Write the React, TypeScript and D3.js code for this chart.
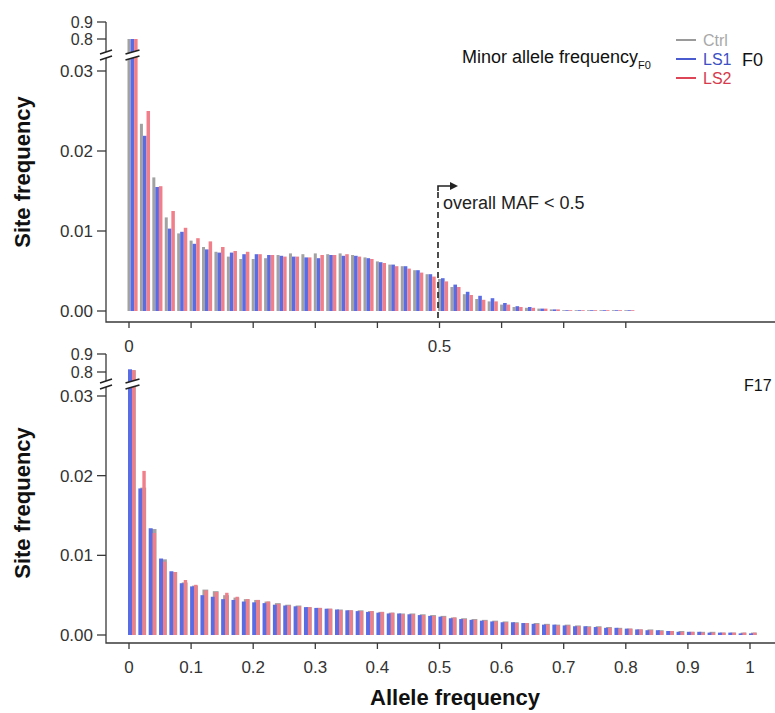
import React from 'react';
import * as d3 from 'd3';

// ---------------- DATA ----------------
const seriesNames = ['Ctrl', 'LS1', 'LS2'];

// F0 panel: bins of 0.02 from 0 to 0.8
const f0Step = 0.02;
const f0Ctrl = [0.80, 0.0234, 0.0167, 0.0117, 0.0097, 0.0088, 0.0080, 0.0074, 0.0068, 0.0065, 0.0065, 0.0066, 0.0070, 0.0072, 0.0071, 0.0072, 0.0071, 0.0072, 0.0070, 0.0067, 0.0062, 0.0058, 0.0056, 0.0051, 0.0046, 0.0040, 0.0030, 0.0021, 0.0015, 0.0012, 0.0008, 0.0005, 0.0004, 0.0003, 0.0002, 0.0001, 0.0001, 0.0001, 0.0001, 0.0001, 0.0001];
const f0LS1 = [0.80, 0.0219, 0.0155, 0.0103, 0.0099, 0.0084, 0.0077, 0.0073, 0.0073, 0.0071, 0.0071, 0.0070, 0.0069, 0.0068, 0.0067, 0.0066, 0.0070, 0.0069, 0.0069, 0.0066, 0.0061, 0.0058, 0.0056, 0.0051, 0.0046, 0.0041, 0.0033, 0.0024, 0.0019, 0.0016, 0.0010, 0.0006, 0.0005, 0.0003, 0.0002, 0.0001, 0.0001, 0.0001, 0.0001, 0.0001, 0.0001];
const f0LS2 = [0.80, 0.0250, 0.0156, 0.0125, 0.0104, 0.0091, 0.0087, 0.0080, 0.0075, 0.0074, 0.0071, 0.0070, 0.0068, 0.0068, 0.0067, 0.0070, 0.0070, 0.0071, 0.0068, 0.0065, 0.0060, 0.0056, 0.0053, 0.0048, 0.0043, 0.0037, 0.0030, 0.0020, 0.0014, 0.0012, 0.0008, 0.0005, 0.0004, 0.0003, 0.0002, 0.0001, 0.0001, 0.0001, 0.0001, 0.0001, 0.0001];

// F17 panel: bins of 1/60 from 0 to 1
const f17Step = 1 / 60;
const f17Ctrl = [0.81, 0.0185, 0.0133, 0.0095, 0.0079, 0.0066, 0.0062, 0.0057, 0.0055, 0.0050, 0.0047, 0.0045, 0.0044, 0.0042, 0.0040, 0.0038, 0.0037, 0.0035, 0.0034, 0.0033, 0.0032, 0.0031, 0.0031, 0.0030, 0.0029, 0.0028, 0.0027, 0.0027, 0.0026, 0.0025, 0.0024, 0.0022, 0.0021, 0.0020, 0.0019, 0.0018, 0.0017, 0.0016, 0.0015, 0.0015, 0.0014, 0.0013, 0.0013, 0.0012, 0.0011, 0.0011, 0.0010, 0.0009, 0.0008, 0.0007, 0.0007, 0.0006, 0.0005, 0.0005, 0.0004, 0.0004, 0.0004, 0.0003, 0.0003, 0.0003, 0.0003];
const f17LS1 = [0.815, 0.0184, 0.0134, 0.0096, 0.0080, 0.0065, 0.0061, 0.0050, 0.0048, 0.0045, 0.0044, 0.0042, 0.0041, 0.0040, 0.0038, 0.0037, 0.0036, 0.0035, 0.0034, 0.0033, 0.0032, 0.0031, 0.0030, 0.0029, 0.0028, 0.0027, 0.0027, 0.0026, 0.0025, 0.0024, 0.0023, 0.0021, 0.0020, 0.0019, 0.0018, 0.0017, 0.0016, 0.0016, 0.0015, 0.0014, 0.0013, 0.0013, 0.0012, 0.0011, 0.0011, 0.0010, 0.0009, 0.0009, 0.0008, 0.0007, 0.0006, 0.0006, 0.0005, 0.0004, 0.0004, 0.0004, 0.0003, 0.0003, 0.0003, 0.0002, 0.0002];
const f17LS2 = [0.81, 0.0206, 0.0128, 0.0092, 0.0079, 0.0069, 0.0063, 0.0056, 0.0054, 0.0053, 0.0048, 0.0045, 0.0044, 0.0042, 0.0039, 0.0037, 0.0036, 0.0035, 0.0034, 0.0033, 0.0031, 0.0031, 0.0030, 0.0030, 0.0029, 0.0028, 0.0026, 0.0026, 0.0025, 0.0024, 0.0023, 0.0022, 0.0020, 0.0019, 0.0018, 0.0017, 0.0016, 0.0015, 0.0015, 0.0014, 0.0013, 0.0012, 0.0012, 0.0011, 0.0010, 0.0010, 0.0009, 0.0008, 0.0008, 0.0007, 0.0006, 0.0005, 0.0005, 0.0004, 0.0004, 0.0003, 0.0003, 0.0003, 0.0003, 0.0003, 0.0003];

const yTicksLow = [0, 0.01, 0.02, 0.03];
const yTicksHigh = [0.8, 0.9];
const topXTicks = [0, 0.1, 0.2, 0.3, 0.4, 0.5, 0.6, 0.7, 0.8];
const topXLabels = [0, 0.5];
const bottomXTicks = [0, 0.1, 0.2, 0.3, 0.4, 0.5, 0.6, 0.7, 0.8, 0.9, 1];
const bottomXLabels = [0, 0.1, 0.2, 0.3, 0.4, 0.5, 0.6, 0.7, 0.8, 0.9, 1];
const mafCut = 0.5;

// ---------------- STYLE ----------------
const FONT = '"Liberation Sans", Arial, Helvetica, sans-serif';
const barColors: Record<string, string> = { Ctrl: '#a2a2a2', LS1: '#5a6ce4', LS2: '#f07f89' };
const legendLineColors: Record<string, string> = { Ctrl: '#9a9a9a', LS1: '#4a5bd0', LS2: '#dd4656' };
const legendTextColors: Record<string, string> = { Ctrl: '#a8a8a8', LS1: '#3d50c4', LS2: '#d63a4c' };
const AXIS = '#3a3a3a';
const TICKTXT = '#333';

const xScale = d3.scaleLinear().domain([0, 1]).range([129, 750]);
const AXIS_X = 106;

type BarLayout = { off: number; w: number }[]; // order: Ctrl, LS1, LS2

interface PanelProps {
  step: number;
  data: number[][];
  yZero: number;
  y03: number;
  y08: number;
  y09: number;
  breakY: number;
  axisY: number;
  xTicks: number[];
  xLabels: number[];
  layout: BarLayout;
  drawOrder: number[];
  labelCenterY: number;
}

function BreakMark({ cx, cy, half }: { cx: number; cy: number; half: number }) {
  const h = half;
  const p1 = [cx - h, cy - 1];
  const p2 = [cx + h, cy - 5];
  const p3 = [cx + h, cy + 1];
  const p4 = [cx - h, cy + 5];
  return (
    <g>
      <polygon points={`${p1.join(',')} ${p2.join(',')} ${p3.join(',')} ${p4.join(',')}`} fill="#fff" />
      <line x1={p1[0]} y1={p1[1]} x2={p2[0]} y2={p2[1]} stroke="#222" strokeWidth={1.6} />
      <line x1={p4[0]} y1={p4[1]} x2={p3[0]} y2={p3[1]} stroke="#222" strokeWidth={1.6} />
    </g>
  );
}

function Panel(p: PanelProps) {
  const low = d3.scaleLinear().domain([0, 0.03]).range([p.yZero, p.y03]);
  const high = d3.scaleLinear().domain([0.8, 0.9]).range([p.y08, p.y09]);
  const yOf = (v: number) => (v > 0.035 ? high(v) : low(v));
  const n = p.data[0].length;
  const bins = d3.range(n).map((i) => i * p.step);
  const brokenGroups = bins.filter((_, i) => p.data.some((s) => s[i] > 0.035));

  return (
    <g>
      {bins.map((b, i) => {
        const x0 = xScale(b);
        return (
          <g key={i}>
            {p.drawOrder.map((si) => {
              const v = p.data[si][i];
              const y = yOf(v);
              const L = p.layout[si];
              return (
                <rect
                  key={si}
                  x={x0 + L.off}
                  y={y}
                  width={L.w}
                  height={Math.max(0, p.yZero - y)}
                  fill={barColors[seriesNames[si]]}
                />
              );
            })}
          </g>
        );
      })}
      <path d={`M${AXIS_X},${p.y09} V${p.axisY} H775`} fill="none" stroke={AXIS} strokeWidth={1.3} />
      {yTicksLow.map((t) => (
        <g key={'yl' + t}>
          <line x1={AXIS_X - 9} x2={AXIS_X} y1={low(t)} y2={low(t)} stroke={AXIS} strokeWidth={1.3} />
          <text x={AXIS_X - 13} y={low(t)} dy="0.35em" textAnchor="end" fontSize={17} fill={TICKTXT} fontFamily={FONT}>
            {d3.format('.2f')(t)}
          </text>
        </g>
      ))}
      {yTicksHigh.map((t) => (
        <g key={'yh' + t}>
          <line x1={AXIS_X - 9} x2={AXIS_X} y1={high(t)} y2={high(t)} stroke={AXIS} strokeWidth={1.3} />
          <text x={AXIS_X - 13} y={high(t)} dy="0.35em" textAnchor="end" fontSize={16} fill={TICKTXT} fontFamily={FONT}>
            {d3.format('.1f')(t)}
          </text>
        </g>
      ))}
      {p.xTicks.map((t) => (
        <line key={'xt' + t} x1={xScale(t)} x2={xScale(t)} y1={p.axisY} y2={p.axisY + 6} stroke={AXIS} strokeWidth={1.3} />
      ))}
      {p.xLabels.map((t) => (
        <text key={'xl' + t} x={xScale(t)} y={p.axisY + 24} dy="0.35em" textAnchor="middle" fontSize={17} fill={TICKTXT} fontFamily={FONT}>
          {String(t)}
        </text>
      ))}
      <BreakMark cx={AXIS_X} cy={p.breakY} half={6} />
      {brokenGroups.map((b) => (
        <BreakMark key={'bk' + b} cx={xScale(b) + 3.5} cy={p.breakY} half={7} />
      ))}
      <text
        transform={`translate(30,${p.labelCenterY}) rotate(-90)`}
        textAnchor="middle"
        fontSize={22}
        fontWeight="bold"
        fill="#111"
        fontFamily={FONT}
      >
        Site frequency
      </text>
    </g>
  );
}

export default function App() {
  const topLayout: BarLayout = [
    { off: -1.5, w: 3 },
    { off: 1.5, w: 3.6 },
    { off: 5.1, w: 3.5 },
  ];
  const bottomLayout: BarLayout = [
    { off: 1, w: 5.8 },
    { off: -1, w: 4 },
    { off: 3, w: 3.4 },
  ];
  const xm = xScale(mafCut) - 1.5;
  return (
    <svg width={775} height={713} style={{ position: 'absolute', left: 0, top: 0, background: '#fff' }}>
      <rect width={775} height={713} fill="#fff" />
      <Panel
        step={f0Step}
        data={[f0Ctrl, f0LS1, f0LS2]}
        yZero={311}
        y03={71}
        y08={39}
        y09={22}
        breakY={55}
        axisY={322}
        xTicks={topXTicks}
        xLabels={topXLabels}
        layout={topLayout}
        drawOrder={[0, 1, 2]}
        labelCenterY={172}
      />
      <Panel
        step={f17Step}
        data={[f17Ctrl, f17LS1, f17LS2]}
        yZero={635}
        y03={396}
        y08={372}
        y09={354}
        breakY={384}
        axisY={643}
        xTicks={bottomXTicks}
        xLabels={bottomXLabels}
        layout={bottomLayout}
        drawOrder={[0, 1, 2]}
        labelCenterY={503}
      />
      <line x1={xm} x2={xm} y1={192} y2={322} stroke="#222" strokeWidth={1.6} strokeDasharray="6,4" />
      <path d={`M${xm},191 V186 H451`} fill="none" stroke="#222" strokeWidth={1.6} />
      <polygon points={`450,182 458,186 450,190`} fill="#222" />
      <text x={443} y={209} fontSize={18} fill="#222" fontFamily={FONT}>
        overall MAF &lt; 0.5
      </text>
      <text x={462} y={63} fontSize={18} fill="#111" fontFamily={FONT}>
        Minor allele frequency
        <tspan fontSize={11} dy={6}>F0</tspan>
      </text>
      {seriesNames.map((s, i) => (
        <g key={s}>
          <line x1={676} x2={696} y1={40 + i * 19} y2={40 + i * 19} stroke={legendLineColors[s]} strokeWidth={2} />
          <text x={703} y={40 + i * 19} dy="0.35em" fontSize={16} fill={legendTextColors[s]} fontFamily={FONT}>
            {s}
          </text>
        </g>
      ))}
      <text x={742} y={60} dy="0.35em" fontSize={18} fill="#111" fontFamily={FONT}>
        F0
      </text>
      <text x={744} y={385} dy="0.35em" fontSize={16} fill="#111" fontFamily={FONT}>
        F17
      </text>
      <text x={455} y={705} textAnchor="middle" fontSize={22} fontWeight="bold" fill="#111" fontFamily={FONT}>
        Allele frequency
      </text>
    </svg>
  );
}
